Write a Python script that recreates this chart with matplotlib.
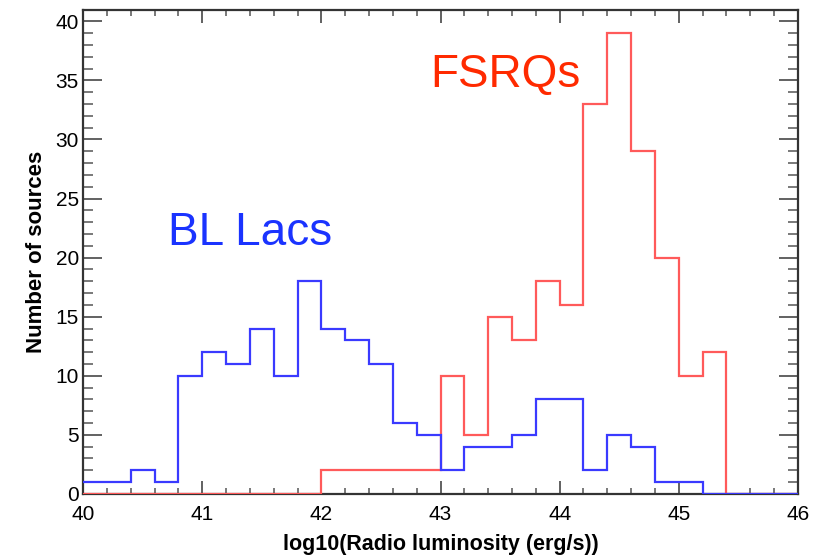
import numpy as np
from matplotlib import pyplot as plt
from matplotlib.ticker import MultipleLocator

# bin edges: 40 to 46 in steps of 0.2 (30 bins)
bin_lo = 40.0
bin_width = 0.2
n_bins = 30

bl_lacs = [1, 1, 2, 1, 10, 12, 11, 14, 10, 18,
           14, 13, 11, 6, 5, 2, 4, 4, 5, 8,
           8, 2, 5, 4, 1, 1, 0, 0, 0, 0]
fsrqs = [0, 0, 0, 0, 0, 0, 0, 0, 0, 0,
         2, 2, 2, 2, 2, 10, 5, 15, 13, 18,
         16, 33, 39, 29, 20, 10, 12, 0, 0, 0]

x_ticks = [40, 41, 42, 43, 44, 45, 46]
y_ticks = [0, 5, 10, 15, 20, 25, 30, 35, 40]

edges = bin_lo + bin_width * np.arange(n_bins + 1)

plt.rcParams['font.family'] = ['Liberation Sans', 'DejaVu Sans']

fig = plt.figure(figsize=(8.23, 5.6), dpi=100)
ax = fig.add_axes([0.1009, 0.118, 0.8687, 0.864])

ax.stairs(fsrqs, edges, baseline=None, color="#ff5a5a", lw=1.6, zorder=3)
ax.stairs(bl_lacs, edges, baseline=None, color="#3a3aff", lw=1.6, zorder=3)

ax.set_xlim(40, 46)
ax.set_ylim(0, 40.95)

ax.set_xticks(x_ticks)
ax.set_yticks(y_ticks)
ax.xaxis.set_minor_locator(MultipleLocator(0.2))
ax.yaxis.set_minor_locator(MultipleLocator(1))

ax.tick_params(axis="both", which="both", direction="in", top=True, right=True,
               color="#555555", labelsize=15)
ax.tick_params(axis="x", which="major", length=9.5, width=1.3, pad=8)
ax.tick_params(axis="x", which="minor", length=4.5, width=1.1)
ax.tick_params(axis="y", which="major", length=14, width=1.3, pad=3)
ax.tick_params(axis="y", which="minor", length=7, width=1.1)

for s in ax.spines.values():
    s.set_linewidth(1.6)
    s.set_color("#333333")

ax.set_xlabel("log10(Radio luminosity (erg/s))", fontsize=15.5, fontweight="bold", labelpad=7)
ax.set_ylabel("Number of sources", fontsize=16, fontweight="bold", labelpad=6)

ax.text(40.71, 21.1, "BL Lacs", color="#1a33ff", fontsize=33, ha="left", va="baseline")
ax.text(42.91, 34.4, "FSRQs", color="#ff2a00", fontsize=33, ha="left", va="baseline")

fig.savefig("out.png", dpi=100)
